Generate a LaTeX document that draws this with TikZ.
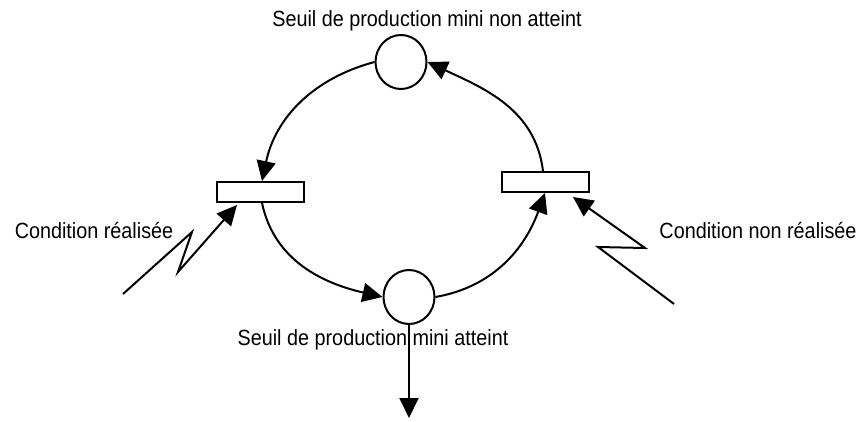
\documentclass[tikz,border=0pt]{standalone}
\usepackage{fontspec}
\setmainfont{Liberation Sans}
\usetikzlibrary{arrows.meta,calc,shapes.geometric}
\newcommand\sqz[1]{\scalebox{0.9}[1]{#1}}
\tikzset{
  place/.style={ellipse,draw,line width=2pt,minimum width=51pt,minimum height=54pt,inner sep=0pt},
  trans/.style={rectangle,draw,line width=2pt,minimum width=87pt,minimum height=20pt,inner sep=0pt},
  arc/.style={line width=2pt,-{Triangle[length=20pt,width=19pt]}},
  lbl/.style={font=\fontsize{22pt}{24pt}\selectfont,inner sep=0pt}
}
\begin{document}
\begin{tikzpicture}[x=1pt,y=1pt]
\useasboundingbox (0,0) rectangle (862,421);
\node[place] (c1) at (401,359) {};
\node[place] (c2) at (409,124) {};
\node[trans] (t1) at (260,229) {};
\node[trans] (t2) at (545,239) {};
\coordinate (out) at (409,3);
\coordinate (l0) at (123,127);
\coordinate (l1) at (192,189);
\coordinate (l2) at (178,149);
\coordinate (l3) at (237,216);
\coordinate (r0) at (674,117);
\coordinate (r1) at (598,174);
\coordinate (r2) at (645,173);
\coordinate (r3) at (573,224);
\draw[arc] (c1.west) to[out=195,in=78] ($(t1.north)+(2,0)$);
\draw[arc] ($(t1.south)+(2,0)$) to[out=-78,in=167] (c2.west);
\draw[arc] (c2.east) to[out=10,in=-110] (t2.south);
\draw[arc] ($(t2.north)+(-2,0)$) to[out=97,in=-25] (c1.east);
\draw[arc] (c2.south) -- (out);
\draw[arc] (l0) -- (l1) -- (l2) -- (l3);
\draw[arc] (r0) -- (r1) -- (r2) -- (r3);
\node[lbl] (top) at (427,400) {\sqz{Seuil de production mini non atteint}};
\node[lbl] (bot) at (373,81) {\sqz{Seuil de production mini atteint}};
\node[lbl] (left) at (94,190) {\sqz{Condition réalisée}};
\node[lbl] (right) at (758,190) {\sqz{Condition non réalisée}};
\end{tikzpicture}
\end{document}
